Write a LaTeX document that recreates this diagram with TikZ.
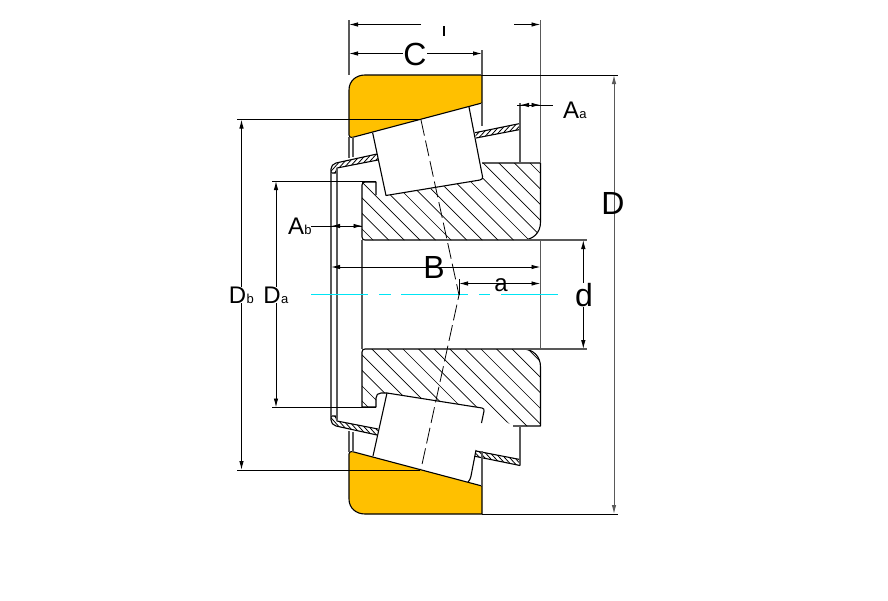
\documentclass[tikz,border=0pt]{standalone}
\usepackage{fontspec}
\setmainfont{Liberation Sans}
\usetikzlibrary{arrows.meta}
\definecolor{ringfill}{HTML}{FFC000}
\definecolor{axiscyan}{HTML}{00E5F5}
\tikzset{
  part/.style={draw=black,line width=1.1pt,line join=round},
  thin part/.style={draw=black!65,line width=1.2pt},
  dimline/.style={draw=black,line width=0.95pt},
  dimarrow/.style={dimline,{Latex[length=9pt,width=4.5pt]}-{Latex[length=9pt,width=4.5pt]}},
  onearrow/.style={dimline,-{Latex[length=9pt,width=4.5pt]}},
  hatchline/.style={draw=black,line width=0.7pt},
  finehatch/.style={draw=black,line width=0.8pt},
  axisline/.style={draw=axiscyan,line width=1pt},
  center dash/.style={draw=black,line width=0.8pt,dash pattern=on 16pt off 5pt},
  biglabel/.style={font=\fontsize{32}{32}\selectfont,inner sep=0pt},
  midlabel/.style={font=\fontsize{24}{24}\selectfont,inner sep=0pt},
  sublabel/.style={font=\fontsize{13}{13}\selectfont,inner sep=0pt},
}
\begin{document}
\begin{tikzpicture}[x=1pt,y=-1pt]
\useasboundingbox (0,0) rectangle (888,600);
% named points
\coordinate (tl) at (349,24.5); \coordinate (tr) at (540.5,24.5);
\coordinate (cl) at (349,53.5); \coordinate (cr) at (482,53.5);
\coordinate (bl) at (331,267); \coordinate (br) at (540.5,267);
\coordinate (al) at (459,283.5); \coordinate (ar) at (540.5,283.5);
\coordinate (Dt) at (614,75); \coordinate (Db) at (614,514);
\coordinate (dt) at (583.3,240); \coordinate (db) at (583.3,349);
\coordinate (Bt) at (241.5,119.5); \coordinate (Bb) at (241.5,470);
\coordinate (At) at (276,181); \coordinate (Ab) at (276,407.5);
% rings
\path[part,fill=ringfill] (349,90) .. controls (349,81) and (356,75) .. (365,75) -- (482,75) -- (482,103) -- (352,137.5) .. controls (350,137.5) and (349,136.5) .. (349,135) -- cycle;
\path[part,fill=ringfill] (349,499) .. controls (349,508) and (356,514) .. (365,514) -- (482,514) -- (482,486) -- (352,451.5) .. controls (350,451.5) and (349,452.5) .. (349,454) -- cycle;
% inner ring hatching
\begin{scope}
\clip (362,182) -- (376,182) -- (376,195) -- (386,196) -- (482,180) -- (482,163) -- (540.5,163) -- (540.5,222) .. controls (540.5,233) and (533,240) .. (522,240) -- (362,240) -- cycle;
\foreach \c in {117.4,133,...,380} \draw[hatchline] (300,300-\c) -- (700,700-\c);
\end{scope}
\begin{scope}
\clip (362,349) -- (522,349) .. controls (533,349) and (540.5,356) .. (540.5,367) -- (540.5,426) -- (513,426) -- (484,408) -- (386,393) -- (381,393) -- (376,398) -- (376,407) -- (362,407) -- cycle;
\foreach \c in {-54,-39,-24,-8.4,...,200} \draw[hatchline] (300,300-\c) -- (700,700-\c);
\end{scope}
% inner ring outlines
\draw[part] (376,195) -- (376,182) -- (365,182) .. controls (363,182) and (362,183) .. (362,185) -- (362,237) .. controls (362,239) and (363,240) .. (365,240) -- (522,240) .. controls (533,240) and (540.5,233) .. (540.5,222) -- (540.5,163) -- (482,163);
\draw[part] (513,426) -- (540.5,426) -- (540.5,367) .. controls (540.5,356) and (533,349) .. (522,349) -- (365,349) .. controls (363,349) and (362,350) .. (362,352) -- (362,407) -- (376,407) -- (376,398) .. controls (376,395) and (378,393) .. (381,393) -- (387,393);
% rollers
\draw[part] (372.7,133) -- (386,195.5) -- (480,180) .. controls (482,179.5) and (483,178.5) .. (482.5,176.5) -- (469,107);
\draw[part] (373,456) -- (387,393) -- (482,408) .. controls (484,408.5) and (484,409.5) .. (484,411) -- (481.5,423);
\draw[part] (476,450) -- (471,476) .. controls (470.5,479) and (469.5,480.5) .. (468,482);
% cages
\begin{scope}
\clip (520,123.5) -- (475,132.7) -- (476,138) -- (520,129.5) -- cycle;
\foreach \c in {0,5,...,60} \draw[finehatch] (470+\c,142) -- (490+\c,120);
\end{scope}
\draw[part] (520,123.5) -- (475,132.7) (476,138) -- (520,129.5) -- (520,123.5);
\begin{scope}
\clip (377,154) -- (336,163) .. controls (333,164) and (331,166) .. (331,169) -- (331,173) -- (335.5,173) -- (337,168) -- (378,160) -- cycle;
\foreach \c in {0,5,...,60} \draw[finehatch] (325+\c,178) -- (350+\c,150);
\end{scope}
\draw[part] (377,154) -- (336,163) .. controls (333,164) and (331,166) .. (331,169) -- (331,173) -- (335.5,173) -- (337,168) -- (378,160);
\begin{scope}
\clip (520,465.5) -- (475,456.3) -- (476,451) -- (520,459.5) -- cycle;
\foreach \c in {0,5,...,60} \draw[finehatch] (470+\c,447) -- (490+\c,469);
\end{scope}
\draw[part] (520,465.5) -- (475,456.3) (476,451) -- (520,459.5) -- (520,465.5);
\begin{scope}
\clip (377,435) -- (336,426) .. controls (333,425) and (331,423) .. (331,420) -- (331,416) -- (335.5,416) -- (337,421) -- (378,429) -- cycle;
\foreach \c in {0,5,...,60} \draw[finehatch] (325+\c,411) -- (350+\c,439);
\end{scope}
\draw[part] (377,435) -- (336,426) .. controls (333,425) and (331,423) .. (331,420) -- (331,416) -- (335.5,416) -- (337,421) -- (378,429);
% vertical extension lines
\draw[thin part] (349,20) -- (349,75) (482,50) -- (482,75) (540.5,20) -- (540.5,163);
\draw[thin part] (482,103) -- (482,126) (520,103) -- (520,163) (520,426) -- (520,465);
\draw[thin part] (482,451) -- (482,486) (349,137) -- (349,158) (353,137) -- (353,157);
\draw[thin part] (349,431) -- (349,452) (353,432) -- (353,452);
\draw[thin part] (331,173) -- (331,416) (337,168) -- (337,421) (362,240) -- (362,349);
\draw[thin part] (540.5,240) -- (540.5,349);
% extension lines
\draw[dimline] (482,75) -- (618,75) (482,514) -- (618,514) (237,119.5) -- (420,119.5) (237,470) -- (420,470);
\draw[thin part] (522,240) -- (587,240) (522,349) -- (587,349);
\draw[dimline] (272,181) -- (376,181) (272,407.5) -- (376,407.5);
% axes
\draw[axisline] (311,294.5) -- (368,294.5) (379,294.5) -- (391,294.5) (401,294.5) -- (468,294.5) (479,294.5) -- (490,294.5) (501,294.5) -- (558,294.5);
\draw[center dash] (421,120) -- (459,295) -- (421,469);
% dimension arrows
\draw[onearrow] (421,24.5) -- (tl);
\draw[onearrow] (514,24.5) -- (tr);
\draw[line width=2pt] (444,26) -- (444,36);
\draw[dimarrow] (cl) -- (cr);
\draw[dimarrow] (bl) -- (br);
\draw[dimline] (459.5,279) -- (459.5,295);
\draw[dimarrow] (al) -- (ar);
\draw[dimarrow,draw=black!65,fill=black] (Dt) -- (Db);
\draw[dimarrow] (dt) -- (db);
\draw[dimarrow] (Bt) -- (Bb);
\draw[dimarrow] (At) -- (Ab);
\draw[dimline] (517,105) -- (553,105);
\draw[onearrow] (530,105) -- (520,105);
\draw[onearrow] (530,105) -- (540.5,105);
\draw[dimline] (311,226) -- (362,226);
\draw[onearrow] (342,226) -- (331,226);
\draw[onearrow] (352,226) -- (362.5,226);
% labels
\node[biglabel,fill=white] (Clabel) at (415,54) {C};
\node[biglabel] (Blabel) at (434,267) {B};
\node[biglabel] (Dlabel) at (613,203) {D};
\node[biglabel,fill=white] (dlabel) at (584,295) {d};
\node[midlabel] (alabel) at (501,285) {a};
\node[midlabel] (Aa) at (571,110) {A};
\node[sublabel,anchor=base west] (Aasub) at (Aa.base east) {a};
\node[midlabel] (Ablabel) at (296,226) {A};
\node[sublabel,anchor=base west] (Absub) at (Ablabel.base east) {b};
\node[midlabel,fill=white] (Dbl) at (237.5,295) {D};
\node[sublabel,anchor=base west] (Dbsub) at (Dbl.base east) {b};
\node[midlabel,fill=white] (Dal) at (272,295) {D};
\node[sublabel,anchor=base west] (Dasub) at (Dal.base east) {a};
\end{tikzpicture}
\end{document}
